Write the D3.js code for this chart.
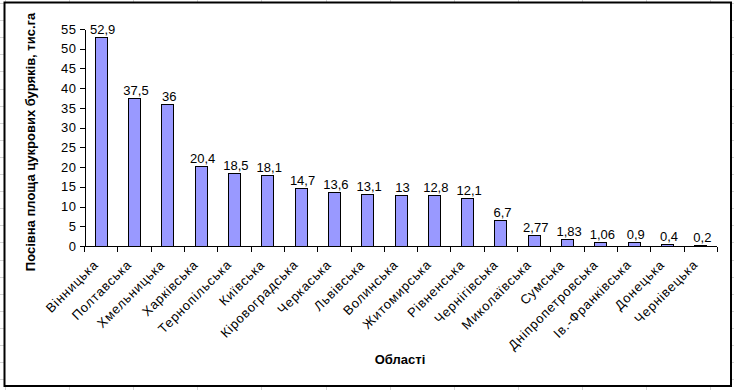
<!DOCTYPE html>
<html lang="uk">
<head>
    <meta charset="UTF-8">
    <title>Посівна площа цукрових буряків</title>
    <script src="https://d3js.org/d3.v7.min.js"></script>
    <style>
        body { margin: 0; background: #fff; }
        text { font-family: Arial, "Liberation Sans", sans-serif; fill: #000; }
        .bar { fill: #9999ff; stroke: #000; stroke-width: 1; }
        .axis line, .axis path { stroke: #000; shape-rendering: crispEdges; }
        .grid line { stroke: #d4d4d4; shape-rendering: crispEdges; }
    </style>
</head>
<body>
    <svg width="734" height="390"></svg>
    <script>
        // Області і посівна площа (тис. га)
        const regions = ["Вінницька", "Полтавська", "Хмельницька", "Харківська", "Тернопільська",
            "Київська", "Кіровоградська", "Черкаська", "Львівська", "Волинська",
            "Житомирська", "Рівненська", "Чернігівська", "Миколаївська", "Сумська",
            "Дніпропетровська", "Ів.-Франківська", "Донецька", "Чернівецька"];
        const area = [52.9, 37.5, 36, 20.4, 18.5, 18.1, 14.7, 13.6, 13.1, 13,
            12.8, 12.1, 6.7, 2.77, 1.83, 1.06, 0.9, 0.4, 0.2];
        const yTicks = [0, 5, 10, 15, 20, 25, 30, 35, 40, 45, 50, 55];

        const svg = d3.select("svg");

        // spreadsheet grid behind the chart
        const grid = svg.append("g").attr("class", "grid");
        grid.selectAll(".v").data(d3.range(5, 734, 64.1)).join("line")
            .attr("x1", d => Math.round(d)).attr("x2", d => Math.round(d))
            .attr("y1", 0).attr("y2", 390);
        grid.selectAll(".h").data(d3.range(3, 390, 17.1)).join("line")
            .attr("x1", 0).attr("x2", 734)
            .attr("y1", d => Math.round(d)).attr("y2", d => Math.round(d));

        // chart area
        svg.append("rect")
            .attr("x", 4.5).attr("y", 2.5)
            .attr("width", 726.5).attr("height", 383.5)
            .attr("fill", "#fff").attr("stroke", "#000").attr("stroke-width", 2);

        const x = d3.scaleBand().domain(regions).range([84, 717]).padding(0);
        const y = d3.scaleLinear().domain([0, 55]).range([246, 29]);
        const barW = 12;

        // bars
        svg.append("g").selectAll("rect").data(area).join("rect")
            .attr("class", "bar")
            .attr("x", (d, i) => Math.round(x(regions[i]) + x.bandwidth() / 2 - barW / 2) + 0.5)
            .attr("y", d => Math.round(y(d)) + 0.5)
            .attr("width", barW)
            .attr("height", d => Math.max(0, Math.round(y(0)) - Math.round(y(d))));

        // value labels
        svg.append("g").selectAll("text").data(area).join("text")
            .attr("x", (d, i) => x(regions[i]) + x.bandwidth() / 2 + 2)
            .attr("y", d => y(d) - 3)
            .attr("text-anchor", "middle")
            .style("font-size", "13px")
            .text(d => String(d).replace(".", ","));

        // y axis
        const yAxis = svg.append("g").attr("class", "axis")
            .attr("transform", "translate(84.5,0)")
            .call(d3.axisLeft(y).tickValues(yTicks).tickSize(5).tickPadding(3).tickSizeOuter(0));
        yAxis.selectAll("text").style("font-size", "13px").style("letter-spacing", "0.5px").attr("fill", "#000");

        // x axis with ticks between categories
        const xAxis = svg.append("g").attr("class", "axis")
            .attr("transform", `translate(0,${Math.round(y(0)) + 0.5})`);
        xAxis.append("line").attr("x1", 84).attr("x2", 717);
        xAxis.selectAll(".tick").data(d3.range(regions.length + 1)).join("line")
            .attr("x1", i => Math.round(84 + i * x.step()) + 0.5)
            .attr("x2", i => Math.round(84 + i * x.step()) + 0.5)
            .attr("y1", 0).attr("y2", 5);

        // category labels at -45°
        svg.append("g").selectAll("text").data(regions).join("text")
            .attr("transform", d => `translate(${x(d) + x.bandwidth() / 2 - 8},${259}) rotate(-45)`)
            .attr("text-anchor", "end")
            .attr("dy", "0.7em")
            .style("font-size", "13px")
            .style("letter-spacing", "0.8px")
            .text(d => d);

        // axis titles
        svg.append("text")
            .attr("transform", "translate(35,142) rotate(-90)")
            .attr("text-anchor", "middle")
            .style("font-size", "13px").style("font-weight", "bold")
            .text("Посівна площа цукрових буряків, тис.га");

        svg.append("text")
            .attr("x", 400).attr("y", 364)
            .attr("text-anchor", "middle")
            .style("font-size", "13px").style("font-weight", "bold")
            .text("Області");
    </script>
</body>
</html>
